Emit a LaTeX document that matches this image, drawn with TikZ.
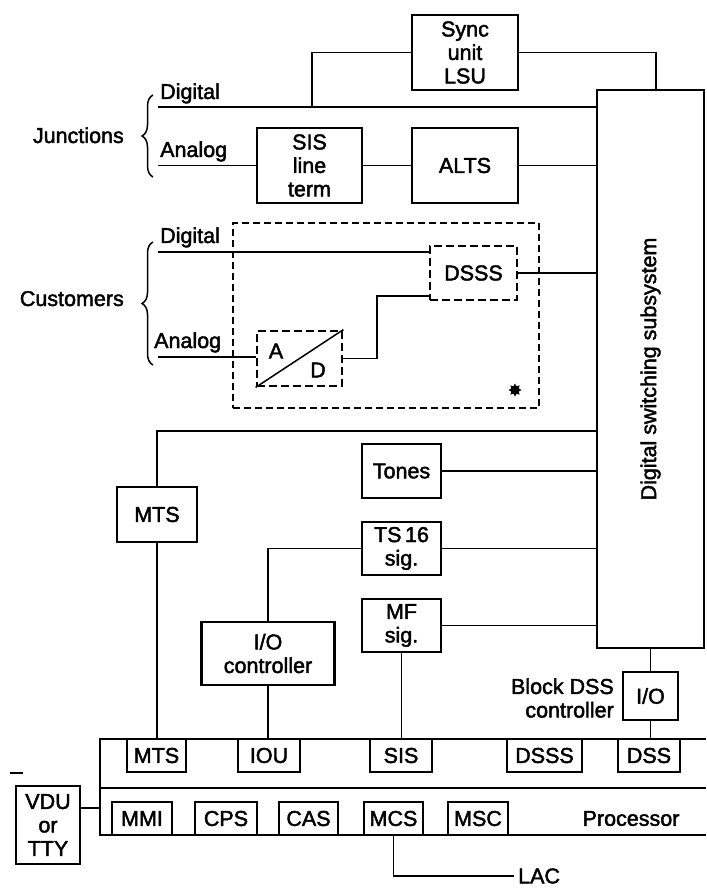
\documentclass[tikz,border=0pt]{standalone}
\usepackage{fontspec}
\setmainfont{Liberation Sans}[FakeBold=2]
\usetikzlibrary{shapes.geometric,decorations.pathreplacing}
\begin{document}
\begin{tikzpicture}[x=1pt,y=-1pt,
  txt/.style={font=\fontsize{21.5}{23.5}\selectfont,inner sep=0pt,align=center},
  box/.style={draw,line width=2.8pt,inner sep=0pt,align=center,font=\fontsize{21.5}{23.5}\selectfont},
  pbox/.style={draw,line width=1.9pt,inner sep=0pt,align=center,font=\fontsize{21.5}{23.5}\selectfont,minimum height=33pt},
  dbox/.style={box,dash pattern=on 8pt off 4pt},
  conn/.style={line width=1.5pt},
  bus/.style={line width=2.8pt},
  brc/.style={line width=1.5pt,decorate,decoration={brace,amplitude=11pt}}]
\useasboundingbox (0,0) rectangle (706,890);
\fill[white] (0,0) rectangle (706,890);

% boxes
\node[box,minimum width=106pt,minimum height=75pt] (sync) at (465,52.5) {Sync\\unit\\LSU};
\node[box,minimum width=105pt,minimum height=75pt] (sis) at (309.5,165.5) {SIS\\line\\term};
\node[box,minimum width=106pt,minimum height=75pt] (alts) at (465,165.5) {ALTS};
\node[box,minimum width=107pt,minimum height=558pt] (dss) at (650.5,369) {};
\node[txt,rotate=90] (dsslabel) at (dss.center) {Digital switching subsystem};

\node[draw,line width=1.2pt,dash pattern=on 7pt off 4pt,minimum width=306pt,minimum height=185pt] (cust) at (386,315.5) {};
\node[dbox,minimum width=87pt,minimum height=54pt] (dsss) at (473.5,273) {DSSS};
\node[dbox,minimum width=85pt,minimum height=55pt] (ad) at (299.5,358.5) {};
\draw[conn] (ad.south west) -- (ad.north east);
\node[txt] (alab) at (276,351) {A};
\node[txt] (dlab) at (318,370) {D};
\node[star,star points=8,star point ratio=1.6,fill,draw=none,minimum size=13pt,inner sep=0pt] (ast) at (515,390) {};

\node[box,minimum width=80pt,minimum height=55pt] (mts) at (157,514.5) {MTS};
\node[box,minimum width=79pt,minimum height=54pt] (tones) at (401.5,471) {Tones};
\node[box,minimum width=79pt,minimum height=53pt] (ts) at (401.5,548.5) {TS\,16\\sig.};
\node[box,minimum width=79pt,minimum height=53pt] (mf) at (401.5,625.5) {MF\\sig.};
\node[box,minimum width=133pt,minimum height=63pt] (ioc) at (268,653.5) {I/O\\controller};
\node[box,minimum width=55pt,minimum height=48pt] (io) at (650.5,696) {I/O};
\node[txt,anchor=east,align=right] (blk) at (614,698) {Block DSS\\controller};
\node[box,minimum width=64pt,minimum height=78pt] (vdu) at (48,825) {VDU\\or\\TTY};

% processor bus
\coordinate (ptl) at (100,739);
\coordinate (pbl) at (100,835);
\coordinate (pml) at (100,788);
\draw[bus] (706,739) -- (ptl) -- (pbl) -- (706,835);
\draw[line width=1.8pt] (pml) -- (706,788);
\node[pbox,minimum width=59pt] (pmts) at (156.5,755.5) {MTS};
\node[pbox,minimum width=62pt] (piou) at (269,755.5) {IOU};
\node[pbox,minimum width=62pt] (psis) at (401,755.5) {SIS};
\node[pbox,minimum width=75pt] (pdsss) at (544.5,755.5) {DSSS};
\node[pbox,minimum width=62pt] (pdss) at (649,755.5) {DSS};
\node[pbox,minimum width=60pt] (mmi) at (142,818.5) {MMI};
\node[pbox,minimum width=62pt] (cps) at (226,818.5) {CPS};
\node[pbox,minimum width=59pt] (cas) at (308.5,818.5) {CAS};
\node[pbox,minimum width=59pt] (mcs) at (393.5,818.5) {MCS};
\node[pbox,minimum width=60pt] (msc) at (478,818.5) {MSC};
\node[txt] (proc) at (631,818.5) {Processor};
\node[txt,anchor=west,inner xsep=4pt] (lac) at (514,876) {LAC};

% labels
\node[txt,anchor=base west] (jdl) at (160,99) {Digital};
\node[txt,anchor=base west] (jal) at (160,157) {Analog};
\node[txt,anchor=base west] (cdl) at (160,243) {Digital};
\node[txt,anchor=base west] (cal) at (154,348) {Analog};
\node[txt,anchor=base east] (jun) at (124,143) {Junctions};
\node[txt,anchor=base east] (cus) at (124,306) {Customers};
\draw[brc] (153,177) -- (153,95);
\draw[brc] (153,365) -- (153,242);

% connectors
\coordinate (jd) at (158,107);
\coordinate (sj) at (312,107);
\coordinate (ja) at (158,165.5);
\coordinate (cd) at (158,252);
\coordinate (ca) at (158,357);
\coordinate (jog) at (377,296);
\coordinate (mtstop) at (157,431);
\coordinate (vduc) at (100,808);
\draw[conn] (jd) -- (jd -| dss.west);
\draw[conn] (sync.west) -| (sj);
\draw[conn] (sync.east) -| ([xshift=5.5pt]dss.north);
\draw[conn] (ja) -- (sis.west);
\draw[conn] (sis.east) -- (alts.west);
\draw[conn] (alts.east) -- (alts.east -| dss.west);
\draw[conn] (cd) -- (cd -| dsss.west);
\draw[conn] (ca) -- (ca -| ad.west);
\draw[conn] (ad.east) -| (jog) -- (dsss.west |- jog);
\draw[conn] (dsss.east) -- (dsss.east -| dss.west);
\draw[conn] (mts.north) -- (mtstop) -- (mtstop -| dss.west);
\draw[conn] (mts.south) -- (mts.south |- pmts.north);
\draw[conn] (tones.east) -- (tones.east -| dss.west);
\draw[conn] (ts.east) -- (ts.east -| dss.west);
\draw[conn] (ts.west) -| (ioc.north);
\draw[conn] (ioc.south) -- (ioc.south |- piou.north);
\draw[conn] (mf.east) -- (mf.east -| dss.west);
\draw[conn] (mf.south) -- (mf.south |- psis.north);
\draw[conn] (io.north |- dss.south) -- (io.north);
\draw[conn] (io.south) -- (io.south |- pdss.north);
\draw[conn] (vdu.east |- vduc) -- (vduc);
\draw[conn] (mcs.south) |- (lac.west);
\draw[line width=1.8pt] (10,773) -- (23,773);
\end{tikzpicture}
\end{document}
